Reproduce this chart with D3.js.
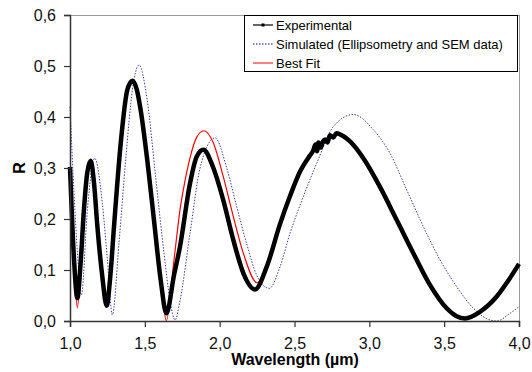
<!DOCTYPE html>
<html>
<head>
<meta charset="utf-8">
<script src="https://cdn.jsdelivr.net/npm/d3@7"></script>
<style>
  body { margin: 0; background: #fff; }
  text { font-family: "Liberation Sans", Arial, sans-serif; }
</style>
</head>
<body>
<svg id="chart" width="532" height="372"></svg>
<script>
// values
const expWl = [1.000, 1.027, 1.049, 1.070, 1.093, 1.115, 1.138, 1.160, 1.183, 1.216, 1.245, 1.270, 1.294, 1.339, 1.383, 1.417, 1.445, 1.472, 1.516, 1.561, 1.606, 1.644, 1.695, 1.735, 1.802, 1.846, 1.891, 1.958, 2.024, 2.091, 2.158, 2.236, 2.314, 2.403, 2.470, 2.537, 2.604, 2.625, 2.640, 2.650, 2.660, 2.675, 2.690, 2.705, 2.720, 2.737, 2.760, 2.780, 2.804, 2.871, 2.960, 3.071, 3.183, 3.294, 3.405, 3.517, 3.580, 3.639, 3.739, 3.851, 3.930, 4.000];
const expR  = [0.302, 0.120, 0.045, 0.110, 0.218, 0.290, 0.314, 0.272, 0.185, 0.087, 0.030, 0.090, 0.185, 0.349, 0.453, 0.471, 0.455, 0.414, 0.316, 0.198, 0.080, 0.015, 0.090, 0.146, 0.270, 0.322, 0.336, 0.300, 0.237, 0.159, 0.094, 0.062, 0.106, 0.190, 0.245, 0.293, 0.325, 0.334, 0.346, 0.333, 0.350, 0.340, 0.352, 0.356, 0.350, 0.364, 0.360, 0.368, 0.366, 0.352, 0.319, 0.263, 0.198, 0.133, 0.071, 0.025, 0.010, 0.005, 0.018, 0.048, 0.080, 0.112];

const simWl = [1.000, 1.027, 1.050, 1.076, 1.116, 1.165, 1.216, 1.250, 1.283, 1.327, 1.372, 1.417, 1.461, 1.516, 1.572, 1.628, 1.668, 1.702, 1.735, 1.802, 1.869, 1.969, 2.047, 2.114, 2.180, 2.247, 2.332, 2.403, 2.470, 2.537, 2.648, 2.759, 2.893, 3.027, 3.138, 3.250, 3.361, 3.472, 3.584, 3.695, 3.806, 3.851, 3.940, 4.000];
const simR  = [0.420, 0.250, 0.133, 0.051, 0.218, 0.319, 0.231, 0.120, 0.012, 0.152, 0.316, 0.453, 0.502, 0.433, 0.283, 0.133, 0.041, 0.002, 0.040, 0.172, 0.300, 0.359, 0.300, 0.224, 0.152, 0.090, 0.064, 0.106, 0.172, 0.227, 0.309, 0.381, 0.405, 0.375, 0.329, 0.257, 0.185, 0.120, 0.067, 0.025, 0.002, 0.000, 0.015, 0.028];

const fitWl = [1.000, 1.027, 1.049, 1.070, 1.093, 1.115, 1.138, 1.160, 1.183, 1.216, 1.245, 1.270, 1.294, 1.339, 1.383, 1.417, 1.445, 1.472, 1.516, 1.561, 1.606, 1.644, 1.695, 1.735, 1.762, 1.802, 1.846, 1.895, 1.958, 2.024, 2.091, 2.158, 2.250, 2.336, 2.403, 2.470, 2.537, 2.604, 2.700, 2.804, 2.871, 2.960, 3.071, 3.183, 3.294, 3.405, 3.517, 3.580, 3.639, 3.739, 3.851, 3.930, 4.000];
const fitR  = [0.302, 0.115, 0.026, 0.108, 0.218, 0.290, 0.314, 0.272, 0.185, 0.087, 0.028, 0.090, 0.185, 0.349, 0.453, 0.471, 0.455, 0.414, 0.316, 0.198, 0.078, 0.001, 0.120, 0.218, 0.265, 0.320, 0.360, 0.373, 0.349, 0.283, 0.205, 0.133, 0.075, 0.126, 0.195, 0.245, 0.293, 0.325, 0.355, 0.366, 0.352, 0.319, 0.263, 0.198, 0.133, 0.071, 0.025, 0.010, 0.004, 0.017, 0.046, 0.078, 0.110];

const xTicks = [1.0, 1.5, 2.0, 2.5, 3.0, 3.5, 4.0];
const yTicks = [0.0, 0.1, 0.2, 0.3, 0.4, 0.5, 0.6];
const legendLabels = ["Experimental", "Simulated (Ellipsometry and SEM data)", "Best Fit"];

const svg = d3.select("#chart");
const plotL = 70, plotR = 519, plotT = 15, plotB = 321;

const x = d3.scaleLinear().domain([1, 4]).range([plotL, plotR]);
const y = d3.scaleLinear().domain([0, 0.6]).range([plotB, plotT]);
const comma = d => d3.format(".1f")(d).replace(".", ",");

// frame (top + right are light grey like the excel plot area)
svg.append("line").attr("x1", plotL).attr("x2", plotR).attr("y1", plotT + 0.5).attr("y2", plotT + 0.5)
  .attr("stroke", "#999").attr("stroke-width", 1);
svg.append("line").attr("x1", plotR + 0.5).attr("x2", plotR + 0.5).attr("y1", plotT).attr("y2", plotB)
  .attr("stroke", "#999").attr("stroke-width", 1);

const pts = (wl, r) => wl.map((w, i) => [w, r[i]]);
const lineGen = d3.line().x(d => x(d[0])).y(d => y(d[1])).curve(d3.curveMonotoneX);

const plot = svg.append("g");
plot.append("path").datum(pts(simWl, simR)).attr("d", lineGen)
  .attr("fill", "none").attr("stroke", "#1a1a99").attr("stroke-width", 1)
  .attr("stroke-dasharray", "1.5,1.5").attr("opacity", 0.85);
plot.append("path").datum(pts(fitWl, fitR)).attr("d", lineGen)
  .attr("fill", "none").attr("stroke", "#ff0000").attr("stroke-width", 1.2);
plot.append("path").datum(pts(expWl, expR)).attr("d", lineGen)
  .attr("fill", "none").attr("stroke", "#000").attr("stroke-width", 4.5)
  .attr("stroke-linejoin", "round");

// axes
const xAxis = svg.append("g").attr("transform", `translate(0,${plotB})`)
  .call(d3.axisBottom(x).tickValues(xTicks).tickFormat(comma).tickSize(6).tickPadding(11));
const yAxis = svg.append("g").attr("transform", `translate(${plotL},0)`)
  .call(d3.axisLeft(y).tickValues(yTicks).tickFormat(comma).tickSize(6).tickPadding(8));
[xAxis, yAxis].forEach(g => {
  g.select(".domain").attr("stroke", "#333").attr("stroke-width", 1.5);
  g.selectAll(".tick line").attr("stroke", "#333").attr("stroke-width", 1.2);
  g.selectAll(".tick text").attr("font-size", 16).attr("fill", "#111")
    .attr("font-family", "'Liberation Sans', Arial, sans-serif");
});

svg.append("text").attr("x", 295).attr("y", 365).attr("text-anchor", "middle")
  .attr("font-size", 16).attr("font-weight", "bold").text("Wavelength (µm)");
svg.append("text").attr("transform", "translate(25,168) rotate(-90)").attr("text-anchor", "middle")
  .attr("font-size", 16).attr("font-weight", "bold").text("R");

// legend
const lg = svg.append("g");
lg.append("rect").attr("x", 244.5).attr("y", 15.5).attr("width", 273).attr("height", 56)
  .attr("fill", "#fff").attr("stroke", "#000").attr("stroke-width", 1);
const rowY = [25, 44, 63];
const styles = [
  { stroke: "#000", w: 1.2, dash: null },
  { stroke: "#00008b", w: 1, dash: "1.5,1.5" },
  { stroke: "#ff0000", w: 1, dash: null }
];
legendLabels.forEach((lab, i) => {
  lg.append("line").attr("x1", 253).attr("x2", 273).attr("y1", rowY[i]).attr("y2", rowY[i])
    .attr("stroke", styles[i].stroke).attr("stroke-width", styles[i].w)
    .attr("stroke-dasharray", styles[i].dash);
  if (i === 0) lg.append("rect").attr("x", 261.5).attr("y", rowY[i] - 1.5).attr("width", 3).attr("height", 3).attr("fill", "#000");
  lg.append("text").attr("x", 276).attr("y", rowY[i]).attr("dy", "0.35em")
    .attr("font-size", 13).attr("fill", "#000").text(lab);
});
</script>
</body>
</html>
